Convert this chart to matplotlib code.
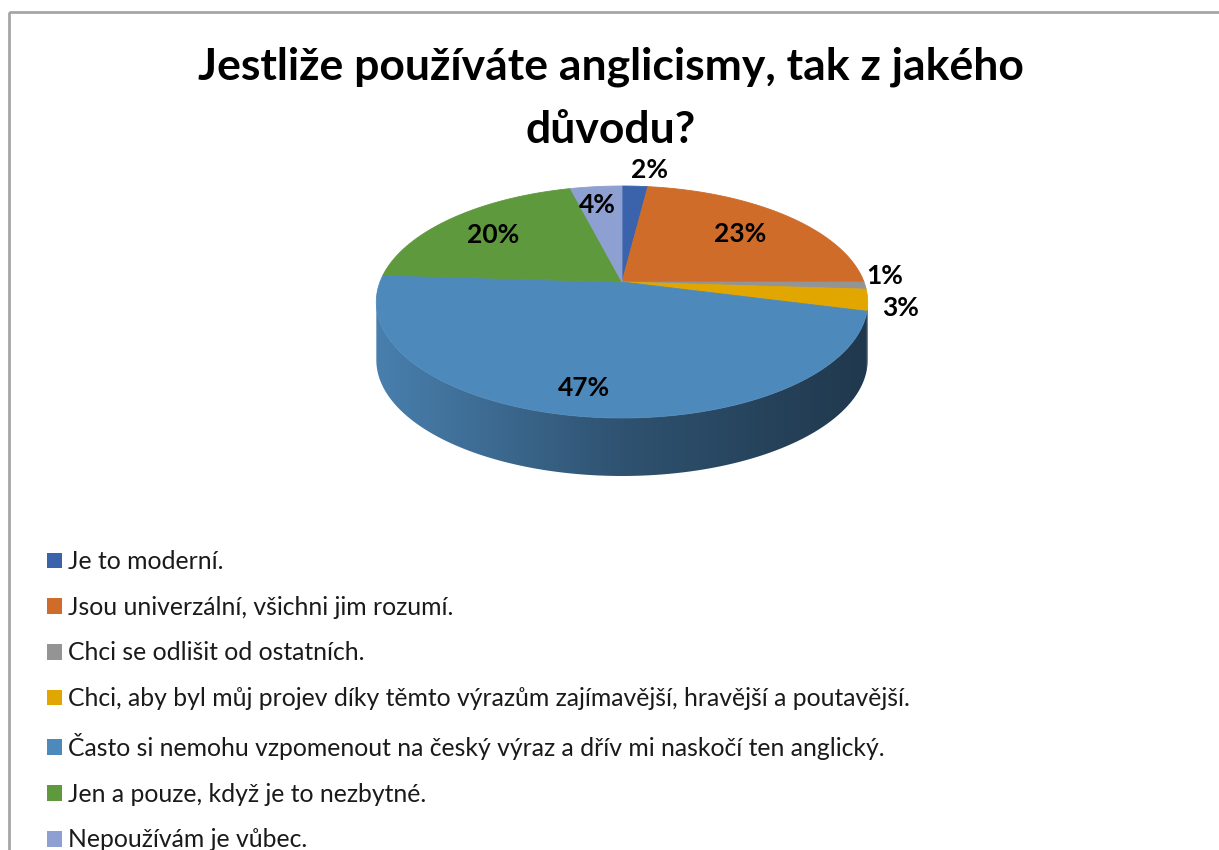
import numpy as np
import matplotlib
matplotlib.use("Agg")
import matplotlib.pyplot as plt
from matplotlib.patches import Polygon, Patch

##############################################
# Data
##############################################
title = "Jestliže používáte anglicismy, tak z jakého\ndůvodu?"
categories = [
    "Je to moderní.",
    "Jsou univerzální, všichni jim rozumí.",
    "Chci se odlišit od ostatních.",
    "Chci, aby byl můj projev díky těmto výrazům zajímavější, hravější a poutavější.",
    "Často si nemohu vzpomenout na český výraz a dřív mi naskočí ten anglický.",
    "Jen a pouze, když je to nezbytné.",
    "Nepoužívám je vůbec.",
]
shares = [2, 23, 1, 3, 47, 20, 4]
colors = ["#3a63ac", "#cf6c29", "#949494", "#e1a600", "#4e89bb", "#5f993d", "#8ea0d2"]

##############################################
# Layout (pixels, y down)
##############################################
W, H = 1219, 850
CX, CY = 622, 282          # apex of the pie
A, B = 242.0, 112.55       # horizontal / vertical scale of the top face
K = 0.1724                 # perspective factor
DEPTH = 58                 # thickness of the pie
label_r = [1.2, 0.7, 1.08, 1.12, 0.8, 0.7, 0.72]
label_dxy = [(12, 0), (0, 0), (0, -10), (2, 6), (-3, 3), (-8, 0), (-5, -5)]


def proj(r, theta):
    # theta in degrees, clockwise from 12 o'clock
    t = np.radians(theta)
    x = r * np.sin(t)
    y = r * np.cos(t)
    den = 1 + K * y
    return CX + A * x / den, CY - B * y / den


fig = plt.figure(figsize=(W / 100, H / 100), dpi=100)
ax = fig.add_axes([0, 0, 1, 1])
ax.set_xlim(0, W)
ax.set_ylim(H, 0)
ax.axis("off")

# chart frame (cut off on the right and bottom)
ax.add_patch(plt.Rectangle((9, 12), 1400, 1000, fill=False, ec="#a6a6a6", lw=2))

bounds = np.concatenate([[0], np.cumsum(shares)]) * 360.0 / sum(shares)

##############################################
# Side of the pie (front, visible part)
##############################################
t_left = 90 + np.degrees(np.arcsin(K))
t_right = 270 - np.degrees(np.arcsin(K))
x_lo, _ = proj(1, t_right)
x_hi, _ = proj(1, t_left)
grad_x = np.linspace(0, 1, 400)
shade = np.interp(grad_x, [0, 0.5, 1], [0.93, 0.6, 0.41])

for i in range(len(shares)):
    a0 = max(bounds[i], t_left)
    a1 = min(bounds[i + 1], t_right)
    if a1 <= a0:
        continue
    th = np.linspace(a0, a1, 200)
    xs, ys = proj(1, th)
    pts = np.vstack([np.column_stack([xs, ys]),
                     np.column_stack([xs[::-1], ys[::-1] + DEPTH])])
    poly = Polygon(pts, closed=True, fc="none", ec="none")
    ax.add_patch(poly)
    rgb = np.array(matplotlib.colors.to_rgb(colors[i]))
    img = (shade[:, None] * rgb[None, :])[None, :, :]
    im = ax.imshow(img, extent=(x_lo, x_hi, 500, 250), aspect="auto",
                   interpolation="bilinear", zorder=1)
    im.set_clip_path(poly)

##############################################
# Top face
##############################################
for i in range(len(shares)):
    th = np.linspace(bounds[i], bounds[i + 1], 200)
    xs, ys = proj(1, th)
    px = np.concatenate([[CX], xs])
    py = np.concatenate([[CY], ys])
    ax.fill(px, py, color=colors[i], lw=0.6, ec=colors[i], zorder=2)

# percentage labels
for i, v in enumerate(shares):
    mid = (bounds[i] + bounds[i + 1]) / 2
    lx, ly = proj(label_r[i], mid)
    ax.text(lx + label_dxy[i][0], ly + label_dxy[i][1], f"{v}%",
            ha="center", va="center", fontsize=19, fontweight="bold",
            family="Lato", color="black", zorder=3)

ax.set_xlim(0, W)
ax.set_ylim(H, 0)

##############################################
# Title and legend
##############################################
ax.text(611, 46, title, ha="center", va="top", fontsize=32, fontweight="bold",
        family="Lato", linespacing=1.7)

handles = [Patch(facecolor=c, edgecolor="none") for c in colors]
fig.legend(handles, categories, loc="upper left",
           bbox_to_anchor=(47 / W, 1 - 550 / H), frameon=False,
           prop={"family": "Lato", "size": 17.8}, labelcolor="#1a1a1a",
           handlelength=0.59, handleheight=0.59, handletextpad=0.26,
           labelspacing=0.92, borderpad=0, borderaxespad=0)

fig.savefig("out.png", dpi=100, facecolor="white")
